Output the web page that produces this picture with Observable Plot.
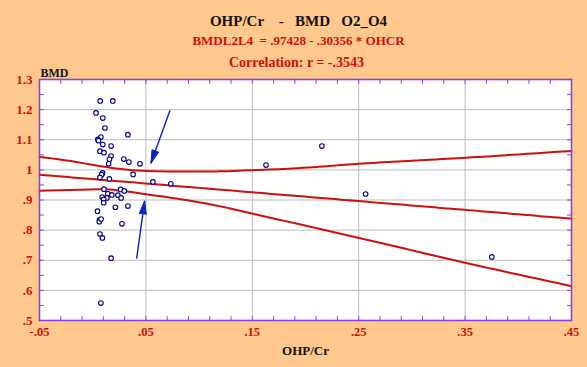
<!DOCTYPE html>
<html><head><meta charset="utf-8">
<script src="https://cdn.jsdelivr.net/npm/d3@7"></script>
<script src="https://cdn.jsdelivr.net/npm/@observablehq/plot@0.6"></script>
<style>
html,body{margin:0;padding:0;background:#FFC88C;}
#chart{width:587px;height:367px;}
svg text{white-space:pre;}
</style></head><body><div id="chart"></div>
<script>
// Scatter data: OHP/Cr (x) vs BMD (y)
const ohpCr = [0.0070,0.0189,0.0031,0.0095,0.0115,0.0331,0.0077,0.0048,0.0054,0.0095,
  0.0173,0.0068,0.0106,0.0173,0.0157,0.0292,0.0340,0.0444,0.0150,0.0380,
  0.0093,0.0084,0.0068,0.0157,0.0566,0.0734,0.0106,0.0262,0.0297,0.0142,
  0.0180,0.0237,0.0089,0.0133,0.0103,0.0267,0.0103,0.0213,0.0331,0.0045,
  0.0065,0.0062,0.0079,0.0275,0.0068,0.0091,0.0173,0.0077,0.1629,0.2154,
  0.2565,0.3751];
const bmd = [1.229,1.229,1.189,1.172,1.139,1.117,1.109,1.101,1.097,1.084,
  1.079,1.062,1.057,1.046,1.035,1.036,1.026,1.020,1.020,0.985,
  0.990,0.984,0.975,0.970,0.960,0.954,0.936,0.935,0.930,0.921,
  0.917,0.916,0.910,0.907,0.902,0.907,0.891,0.876,0.880,0.863,
  0.834,0.828,0.837,0.821,0.787,0.774,0.707,0.558,1.016,1.079,
  0.920,0.711];

// Regression line and confidence band
const fitX = [-0.05, 0.45];
const fitY = [0.984, 0.838];
const bandUpperX = [-0.05,-0.0218,0.0095,0.0377,0.0721,0.1159,0.1497,0.1948,0.2493,0.3497,0.45];
const bandUpperY = [1.043,1.030,1.011,0.999,0.995,0.995,0.999,1.006,1.020,1.040,1.063];
const bandLowerX = [-0.05,-0.0218,0.0095,0.0283,0.0502,0.0784,0.1159,0.1497,0.2493,0.3497,0.45];
const bandLowerY = [0.931,0.933,0.936,0.930,0.919,0.905,0.882,0.855,0.775,0.692,0.614];

// Annotation arrows (start -> tip)
const arrowX1 = [0.0727, 0.0413];
const arrowY1 = [1.198, 0.705];
const arrowX2 = [0.0547, 0.0488];
const arrowY2 = [1.022, 0.897];

// Ticks
const xTicks = [-0.05,0.05,0.15,0.25,0.35,0.45];
const xTickLabels = ["-.05",".05",".15",".25",".35",".45"];
const yTicks = [0.5,0.6,0.7,0.8,0.9,1.0,1.1,1.2,1.3];
const yTickLabels = [".5",".6",".7",".8",".9","1","1.1","1.2","1.3"];
const xMinorTicks = d3.range(0,26).map(i => +(-0.05 + i*0.02).toFixed(3)).filter(v => v <= 0.45);
const yMinorTicks = d3.range(0,17).map(i => +(0.5 + i*0.05).toFixed(3));

const titleText = "OHP/Cr    -   BMD   O2_O4";
const subtitleText = "BMDL2L4  = .97428 - .30356 * OHCR";
const corrText = "Correlation: r = -.3543";

const W = 587, H = 367, mL = 39, mR = 16, mT = 79, mB = 47;
const xDom = [-0.05, 0.45], yDom = [0.5, 1.3];
const kx = (W - mL - mR) / (xDom[1] - xDom[0]);
const ky = (H - mT - mB) / (yDom[1] - yDom[0]);

const points = ohpCr.map((x, i) => ({x, y: bmd[i]}));
const upper = bandUpperX.map((x, i) => ({x, y: bandUpperY[i]}));
const lower = bandLowerX.map((x, i) => ({x, y: bandLowerY[i]}));
const fit = fitX.map((x, i) => ({x, y: fitY[i]}));
const arrows = arrowX1.map((x1, i) => {
  const dxp = (arrowX2[i] - x1) * kx;
  const dyp = -(arrowY2[i] - arrowY1[i]) * ky;
  return {x1, y1: arrowY1[i], x2: arrowX2[i], y2: arrowY2[i], angle: Math.atan2(dxp, -dyp) * 180 / Math.PI};
});

const lineShape = {draw(c, l) { c.moveTo(0, 0); c.lineTo(0, -l); }};
const headShape = {draw(c, l, r) { c.moveTo(0, -l); c.lineTo(-r, 0); c.lineTo(r, 0); c.closePath(); }};

const purple = "#8840E8", red = "#CC1010", blue = "#1020C0", dotBlue = "#00008C", grid = "#BDBDBD";
const font = "Liberation Serif";

const tickMarks = (data, axis, frameAnchor, rotate) => Plot.vector(data, {
  [axis]: d => d, frameAnchor, rotate, length: 4, anchor: "start", shape: lineShape,
  stroke: purple, strokeWidth: 1
});

const chart = Plot.plot({
  width: W, height: H,
  marginLeft: mL, marginRight: mR, marginTop: mT, marginBottom: mB,
  style: {background: "transparent", fontFamily: font},
  x: {domain: xDom, axis: null},
  y: {domain: yDom, axis: null},
  marks: [
    Plot.frame({fill: "white", stroke: null}),
    Plot.gridX(xTicks, {stroke: grid, strokeOpacity: 1, strokeWidth: 1}),
    Plot.gridY(yTicks, {stroke: grid, strokeOpacity: 1, strokeWidth: 1}),
    tickMarks(xMinorTicks, "x", "bottom", 0),
    tickMarks(xMinorTicks, "x", "top", 180),
    tickMarks(yMinorTicks, "y", "left", 90),
    tickMarks(yMinorTicks, "y", "right", 270),
    Plot.line(upper, {x: "x", y: "y", stroke: red, strokeWidth: 2, curve: "monotone-x", strokeDasharray: "9,1"}),
    Plot.line(lower, {x: "x", y: "y", stroke: red, strokeWidth: 2, curve: "monotone-x", strokeDasharray: "9,1"}),
    Plot.line(fit, {x: "x", y: "y", stroke: red, strokeWidth: 2, strokeDasharray: "9,1"}),
    Plot.dot(points, {x: "x", y: "y", r: 2.3, stroke: dotBlue, strokeWidth: 1.1, fill: "white"}),
    Plot.link(arrows, {x1: "x1", y1: "y1", x2: "x2", y2: "y2", stroke: blue, strokeWidth: 1.4}),
    Plot.vector(arrows, {x: "x2", y: "y2", rotate: "angle", length: 13, r: 3.5, anchor: "end",
      shape: headShape, fill: blue, stroke: blue, strokeWidth: 1}),
    Plot.frame({stroke: purple, strokeWidth: 1.6}),
    // tick labels
    Plot.text(yTicks, {y: d => d, text: (d, i) => yTickLabels[i], frameAnchor: "left", textAnchor: "end",
      dx: -7, fill: red, fontSize: 13, fontWeight: "bold"}),
    Plot.text(xTicks, {x: d => d, text: (d, i) => xTickLabels[i], frameAnchor: "bottom",
      dy: 15.5, fill: red, fontSize: 12.5, fontWeight: "bold"}),
    // axis labels
    Plot.text(["BMD"], {frameAnchor: "top-left", textAnchor: "start", dx: 1, dy: -11,
      fill: "#111", fontSize: 12, fontWeight: "bold"}),
    Plot.text(["OHP/Cr"], {frameAnchor: "bottom", dy: 34, fill: "#111", fontSize: 13, fontWeight: "bold"}),
    // titles
    Plot.text([titleText], {frameAnchor: "top", dx: -7, dy: -64, fill: "#111", fontSize: 15, fontWeight: "bold"}),
    Plot.text([subtitleText], {frameAnchor: "top", dx: -7, dy: -44, fill: red, fontSize: 13, fontWeight: "bold"}),
    Plot.text([corrText], {frameAnchor: "top", dx: -9, dy: -22, fill: red, fontSize: 14, fontWeight: "bold"})
  ]
});
document.getElementById("chart").appendChild(chart);
</script>
</body></html>
